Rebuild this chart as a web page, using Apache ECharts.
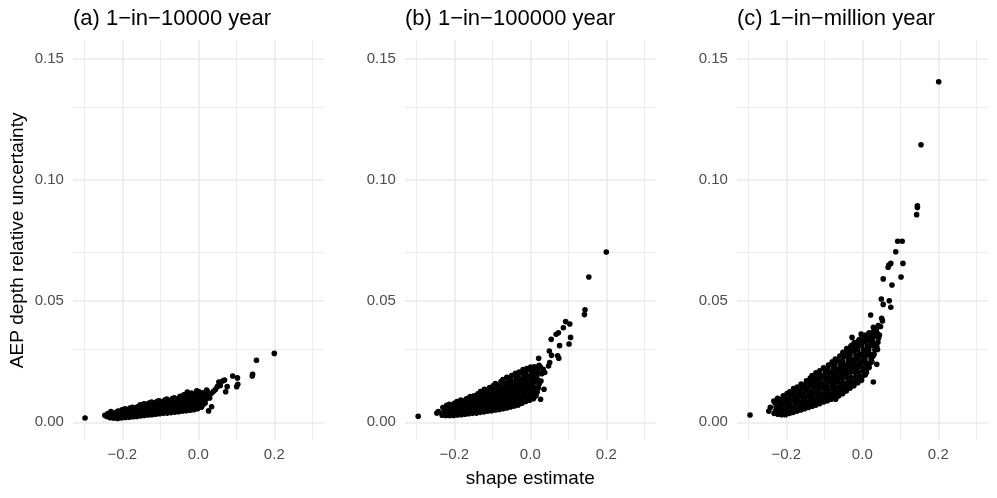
<!DOCTYPE html>
<html>
<head>
<meta charset="utf-8">
<script src="https://cdn.jsdelivr.net/npm/echarts@6.0.0/dist/echarts.min.js"></script>
<style>
html,body{margin:0;padding:0;background:#fff;}
#chart{width:997px;height:498px;}
</style>
</head>
<body>
<div id="chart"></div>
<script>
// ---------- data ----------
const panelTitles = ['(a) 1\u2212in\u221210000 year', '(b) 1\u2212in\u2212100000 year', '(c) 1\u2212in\u2212million year'];
const xTitle = 'shape estimate';
const yTitle = 'AEP depth relative uncertainty';
const xMajorTicks = [-0.2, 0, 0.2];
const xMinorTicks = [-0.3, -0.1, 0.1, 0.3];
const yMajorTicks = [0, 0.05, 0.1, 0.15];
const yMinorTicks = [0.025, 0.075, 0.125];

// Panel (a) 1-in-10000 year: [shape, relative uncertainty]
const cloudA = [
[-0.246,0.0029],[-0.241,0.0024],[-0.238,0.0036],
[-0.232,0.0019],[-0.229,0.0025],[-0.227,0.0037],[-0.230,0.0044],
[-0.222,0.0017],[-0.219,0.0029],[-0.217,0.0041],
[-0.212,0.0016],[-0.209,0.0022],[-0.207,0.0034],[-0.211,0.0046],
[-0.202,0.0018],[-0.199,0.0030],[-0.197,0.0043],[-0.201,0.0052],
[-0.192,0.0020],[-0.189,0.0027],[-0.187,0.0040],[-0.190,0.0052],[-0.193,0.0056],
[-0.182,0.0021],[-0.179,0.0034],[-0.177,0.0047],[-0.180,0.0059],
[-0.172,0.0023],[-0.169,0.0030],[-0.167,0.0043],[-0.170,0.0056],[-0.173,0.0062],
[-0.162,0.0024],[-0.159,0.0037],[-0.157,0.0050],[-0.160,0.0064],
[-0.152,0.0026],[-0.149,0.0033],[-0.147,0.0046],[-0.150,0.0059],[-0.153,0.0072],
[-0.142,0.0028],[-0.139,0.0041],[-0.137,0.0054],[-0.140,0.0067],[-0.143,0.0076],
[-0.132,0.0030],[-0.129,0.0037],[-0.127,0.0050],[-0.130,0.0063],[-0.133,0.0076],[-0.128,0.0080],
[-0.122,0.0031],[-0.119,0.0044],[-0.117,0.0057],[-0.120,0.0071],[-0.123,0.0083],
[-0.112,0.0033],[-0.109,0.0040],[-0.107,0.0053],[-0.110,0.0066],[-0.113,0.0080],[-0.108,0.0087],
[-0.102,0.0035],[-0.099,0.0048],[-0.097,0.0061],[-0.100,0.0075],[-0.103,0.0089],
[-0.092,0.0037],[-0.089,0.0044],[-0.087,0.0057],[-0.090,0.0070],[-0.093,0.0084],[-0.088,0.0092],
[-0.082,0.0038],[-0.079,0.0052],[-0.077,0.0066],[-0.080,0.0080],[-0.083,0.0096],
[-0.072,0.0040],[-0.069,0.0047],[-0.067,0.0061],[-0.070,0.0075],[-0.073,0.0089],[-0.068,0.0098],
[-0.062,0.0042],[-0.059,0.0056],[-0.057,0.0070],[-0.060,0.0085],[-0.063,0.0101],
[-0.052,0.0044],[-0.049,0.0051],[-0.047,0.0065],[-0.050,0.0080],[-0.053,0.0095],[-0.048,0.0107],
[-0.042,0.0046],[-0.039,0.0060],[-0.037,0.0075],[-0.040,0.0090],[-0.043,0.0105],[-0.038,0.0113],
[-0.032,0.0048],[-0.029,0.0055],[-0.027,0.0070],[-0.030,0.0085],[-0.033,0.0100],[-0.028,0.0114],
[-0.022,0.0050],[-0.019,0.0064],[-0.017,0.0079],[-0.020,0.0094],[-0.023,0.0109],[-0.018,0.0121],
[-0.012,0.0052],[-0.009,0.0059],[-0.007,0.0074],[-0.010,0.0089],[-0.013,0.0104],[-0.008,0.0118],
[-0.002,0.0056],[0.001,0.0070],[0.003,0.0085],[0.000,0.0100],[-0.003,0.0114],[0.002,0.0126],
[0.008,0.0062],[0.011,0.0070],[0.013,0.0085],[0.010,0.0100],[0.007,0.0115],[0.012,0.0122],
[0.018,0.0080],[0.021,0.0097],[0.019,0.0112],[0.023,0.0130],
[0.028,0.0105],[0.031,0.0118]
];
const tailA = [
[-0.298,0.0018],[0.200,0.0284],[0.153,0.0256],[0.143,0.0198],[0.142,0.0191],
[0.0905,0.0191],[0.103,0.0183],[0.104,0.0157],[0.101,0.0147],[0.069,0.0174],
[0.064,0.0170],[0.054,0.0166],[0.076,0.0147],[0.072,0.0126],[0.050,0.0147],
[0.022,0.0133],[0.035,0.0120],[0.035,0.0064],[0.027,0.0047],[0.013,0.0074],
[-0.004,0.0130],[-0.029,0.0125],[0.045,0.0135],[0.040,0.0128],[0.058,0.0152],[0.030,0.0100]
];

// Panel (b) 1-in-100000 year
const cloudB = [
[-0.246,0.0038],[-0.242,0.0044],
[-0.232,0.0029],[-0.229,0.0037],[-0.227,0.0053],[-0.230,0.0061],
[-0.222,0.0028],[-0.219,0.0044],[-0.217,0.0060],[-0.220,0.0070],
[-0.212,0.0028],[-0.209,0.0036],[-0.207,0.0052],[-0.210,0.0068],[-0.213,0.0074],
[-0.202,0.0028],[-0.199,0.0044],[-0.197,0.0060],[-0.200,0.0078],
[-0.192,0.0030],[-0.189,0.0038],[-0.187,0.0054],[-0.190,0.0070],[-0.193,0.0086],
[-0.182,0.0031],[-0.179,0.0047],[-0.177,0.0063],[-0.180,0.0079],[-0.183,0.0092],
[-0.172,0.0033],[-0.169,0.0041],[-0.167,0.0057],[-0.170,0.0073],[-0.173,0.0089],[-0.168,0.0097],
[-0.162,0.0035],[-0.159,0.0051],[-0.157,0.0067],[-0.160,0.0083],[-0.163,0.0099],[-0.158,0.0106],
[-0.152,0.0037],[-0.149,0.0045],[-0.147,0.0061],[-0.150,0.0077],[-0.153,0.0093],[-0.148,0.0109],
[-0.142,0.0038],[-0.139,0.0054],[-0.137,0.0070],[-0.140,0.0086],[-0.143,0.0102],[-0.138,0.0118],
[-0.132,0.0041],[-0.129,0.0049],[-0.127,0.0065],[-0.130,0.0081],[-0.133,0.0097],[-0.128,0.0113],[-0.131,0.0127],
[-0.122,0.0043],[-0.119,0.0059],[-0.117,0.0075],[-0.120,0.0091],[-0.123,0.0107],[-0.118,0.0123],[-0.121,0.0136],
[-0.112,0.0046],[-0.109,0.0054],[-0.107,0.0070],[-0.110,0.0086],[-0.113,0.0102],[-0.108,0.0118],[-0.111,0.0134],[-0.107,0.0143],
[-0.102,0.0048],[-0.099,0.0064],[-0.097,0.0080],[-0.100,0.0096],[-0.103,0.0112],[-0.098,0.0128],[-0.101,0.0144],[-0.097,0.0152],
[-0.092,0.0051],[-0.089,0.0059],[-0.087,0.0075],[-0.090,0.0091],[-0.093,0.0107],[-0.088,0.0123],[-0.091,0.0139],[-0.087,0.0155],[-0.092,0.0160],
[-0.082,0.0053],[-0.079,0.0069],[-0.077,0.0085],[-0.080,0.0101],[-0.083,0.0117],[-0.078,0.0133],[-0.081,0.0149],[-0.077,0.0168],
[-0.072,0.0056],[-0.069,0.0064],[-0.067,0.0080],[-0.070,0.0096],[-0.073,0.0112],[-0.068,0.0128],[-0.071,0.0144],[-0.067,0.0160],[-0.072,0.0176],
[-0.062,0.0059],[-0.059,0.0075],[-0.057,0.0091],[-0.060,0.0107],[-0.063,0.0123],[-0.058,0.0139],[-0.061,0.0155],[-0.057,0.0171],[-0.062,0.0185],
[-0.052,0.0063],[-0.049,0.0071],[-0.047,0.0087],[-0.050,0.0103],[-0.053,0.0119],[-0.048,0.0135],[-0.051,0.0151],[-0.047,0.0167],[-0.052,0.0183],[-0.049,0.0193],
[-0.042,0.0067],[-0.039,0.0083],[-0.037,0.0099],[-0.040,0.0115],[-0.043,0.0131],[-0.038,0.0147],[-0.041,0.0163],[-0.037,0.0179],[-0.042,0.0195],[-0.039,0.0202],
[-0.032,0.0071],[-0.029,0.0079],[-0.027,0.0095],[-0.030,0.0111],[-0.033,0.0127],[-0.028,0.0143],[-0.031,0.0159],[-0.027,0.0175],[-0.032,0.0191],[-0.029,0.0207],
[-0.022,0.0079],[-0.019,0.0095],[-0.017,0.0111],[-0.020,0.0127],[-0.023,0.0143],[-0.018,0.0159],[-0.021,0.0175],[-0.017,0.0191],[-0.022,0.0207],[-0.019,0.0217],
[-0.012,0.0086],[-0.009,0.0094],[-0.007,0.0110],[-0.010,0.0126],[-0.013,0.0142],[-0.008,0.0158],[-0.011,0.0174],[-0.007,0.0190],[-0.012,0.0206],[-0.009,0.0222],
[-0.002,0.0091],[0.001,0.0107],[0.003,0.0123],[0.000,0.0139],[-0.003,0.0155],[0.002,0.0171],[-0.001,0.0187],[0.003,0.0203],[-0.002,0.0219],[0.001,0.0228],
[0.008,0.0097],[0.011,0.0105],[0.013,0.0121],[0.010,0.0137],[0.007,0.0153],[0.012,0.0169],[0.009,0.0185],[0.013,0.0201],[0.008,0.0217],[0.011,0.0229],
[0.018,0.0125],[0.021,0.0141],[0.023,0.0157],[0.020,0.0173],[0.017,0.0189],[0.022,0.0205],[0.019,0.0221],[0.023,0.0235]
];
const tailB = [
[-0.295,0.0025],[0.200,0.0702],[0.154,0.0599],[0.144,0.0464],[0.1425,0.0444],
[0.093,0.0415],[0.104,0.0405],[0.087,0.0390],[0.074,0.0369],[0.068,0.0363],
[0.055,0.0342],[0.106,0.0350],[0.102,0.0323],[0.077,0.0316],[0.050,0.0294],
[0.056,0.0276],[0.072,0.0274],[0.075,0.0264],[0.022,0.0264],[0.051,0.0246],
[0.048,0.0232],[0.026,0.0229],[0.034,0.0218],[0.012,0.0143],[0.036,0.0136],
[0.027,0.0095],[0.004,0.0130],[-0.005,0.0113],[0.030,0.0200],[0.038,0.0205],
[0.028,0.0170],[0.015,0.0110]
];

// Panel (c) 1-in-million year
const cloudC = [
[-0.246,0.0046],[-0.242,0.0062],
[-0.232,0.0036],[-0.229,0.0045],[-0.227,0.0063],[-0.230,0.0081],[-0.233,0.0088],
[-0.222,0.0033],[-0.219,0.0051],[-0.217,0.0069],[-0.220,0.0087],[-0.223,0.0099],
[-0.212,0.0031],[-0.209,0.0040],[-0.207,0.0058],[-0.210,0.0076],[-0.213,0.0094],[-0.208,0.0109],
[-0.202,0.0031],[-0.199,0.0049],[-0.197,0.0067],[-0.200,0.0085],[-0.203,0.0103],[-0.198,0.0119],
[-0.192,0.0036],[-0.189,0.0045],[-0.187,0.0063],[-0.190,0.0081],[-0.193,0.0099],[-0.188,0.0117],[-0.191,0.0126],
[-0.182,0.0041],[-0.179,0.0059],[-0.177,0.0077],[-0.180,0.0095],[-0.183,0.0113],[-0.178,0.0131],[-0.181,0.0139],
[-0.172,0.0046],[-0.169,0.0055],[-0.167,0.0073],[-0.170,0.0091],[-0.173,0.0109],[-0.168,0.0127],[-0.171,0.0145],
[-0.162,0.0051],[-0.159,0.0069],[-0.157,0.0087],[-0.160,0.0105],[-0.163,0.0123],[-0.158,0.0141],[-0.161,0.0158],
[-0.152,0.0056],[-0.149,0.0065],[-0.147,0.0083],[-0.150,0.0101],[-0.153,0.0119],[-0.148,0.0137],[-0.151,0.0155],[-0.147,0.0171],
[-0.142,0.0061],[-0.139,0.0079],[-0.137,0.0097],[-0.140,0.0115],[-0.143,0.0133],[-0.138,0.0151],[-0.141,0.0169],[-0.137,0.0182],
[-0.132,0.0066],[-0.129,0.0075],[-0.127,0.0093],[-0.130,0.0111],[-0.133,0.0129],[-0.128,0.0147],[-0.131,0.0165],[-0.127,0.0183],[-0.132,0.0193],
[-0.122,0.0071],[-0.119,0.0089],[-0.117,0.0107],[-0.120,0.0125],[-0.123,0.0143],[-0.118,0.0161],[-0.121,0.0179],[-0.117,0.0197],[-0.122,0.0204],
[-0.112,0.0077],[-0.109,0.0086],[-0.107,0.0104],[-0.110,0.0122],[-0.113,0.0140],[-0.108,0.0158],[-0.111,0.0176],[-0.107,0.0194],[-0.112,0.0212],
[-0.102,0.0084],[-0.099,0.0102],[-0.097,0.0120],[-0.100,0.0138],[-0.103,0.0156],[-0.098,0.0174],[-0.101,0.0192],[-0.097,0.0210],[-0.102,0.0225],
[-0.092,0.0089],[-0.089,0.0098],[-0.087,0.0116],[-0.090,0.0134],[-0.093,0.0152],[-0.088,0.0170],[-0.091,0.0188],[-0.087,0.0206],[-0.092,0.0224],[-0.089,0.0236],
[-0.082,0.0095],[-0.079,0.0113],[-0.077,0.0131],[-0.080,0.0149],[-0.083,0.0167],[-0.078,0.0185],[-0.081,0.0203],[-0.077,0.0221],[-0.082,0.0239],[-0.079,0.0249],
[-0.072,0.0101],[-0.069,0.0110],[-0.067,0.0128],[-0.070,0.0146],[-0.073,0.0164],[-0.068,0.0182],[-0.071,0.0200],[-0.067,0.0218],[-0.072,0.0236],[-0.069,0.0254],[-0.071,0.0261],
[-0.062,0.0109],[-0.059,0.0127],[-0.057,0.0145],[-0.060,0.0163],[-0.063,0.0181],[-0.058,0.0199],[-0.061,0.0217],[-0.057,0.0235],[-0.062,0.0253],[-0.059,0.0273],
[-0.052,0.0118],[-0.049,0.0127],[-0.047,0.0145],[-0.050,0.0163],[-0.053,0.0181],[-0.048,0.0199],[-0.051,0.0217],[-0.047,0.0235],[-0.052,0.0253],[-0.049,0.0271],[-0.051,0.0289],
[-0.042,0.0129],[-0.039,0.0147],[-0.037,0.0165],[-0.040,0.0183],[-0.043,0.0201],[-0.038,0.0219],[-0.041,0.0237],[-0.037,0.0255],[-0.042,0.0273],[-0.039,0.0291],[-0.041,0.0304],
[-0.032,0.0141],[-0.029,0.0150],[-0.027,0.0168],[-0.030,0.0186],[-0.033,0.0204],[-0.028,0.0222],[-0.031,0.0240],[-0.027,0.0258],[-0.032,0.0276],[-0.029,0.0294],[-0.031,0.0312],[-0.028,0.0317],
[-0.022,0.0151],[-0.019,0.0169],[-0.017,0.0187],[-0.020,0.0205],[-0.023,0.0223],[-0.018,0.0241],[-0.021,0.0259],[-0.017,0.0277],[-0.022,0.0295],[-0.019,0.0313],[-0.021,0.0329],
[-0.012,0.0163],[-0.009,0.0172],[-0.007,0.0190],[-0.010,0.0208],[-0.013,0.0226],[-0.008,0.0244],[-0.011,0.0262],[-0.007,0.0280],[-0.012,0.0298],[-0.009,0.0316],[-0.011,0.0334],[-0.008,0.0341],
[-0.002,0.0173],[0.001,0.0191],[0.003,0.0209],[0.000,0.0227],[-0.003,0.0245],[0.002,0.0263],[-0.001,0.0281],[0.003,0.0299],[-0.002,0.0317],[0.001,0.0335],[-0.001,0.0351],
[0.008,0.0196],[0.011,0.0205],[0.013,0.0223],[0.010,0.0241],[0.007,0.0259],[0.012,0.0277],[0.009,0.0295],[0.013,0.0313],[0.008,0.0331],[0.011,0.0349],[0.009,0.0360],
[0.018,0.0226],[0.021,0.0244],[0.023,0.0262],[0.020,0.0280],[0.017,0.0298],[0.022,0.0316],[0.019,0.0334],[0.023,0.0352],[0.018,0.0369],
[0.028,0.0272],[0.031,0.0281],[0.033,0.0299],[0.030,0.0317],[0.027,0.0335],[0.032,0.0353],[0.029,0.0371],[0.031,0.0383],
[0.038,0.0312],[0.041,0.0330],[0.043,0.0348],[0.040,0.0366],[0.037,0.0384],[0.042,0.0399]
];
const tailC = [
[-0.2955,0.0030],[0.201,0.1404],[0.1545,0.1144],[0.145,0.0892],[0.145,0.0885],
[0.143,0.0856],[0.093,0.0746],[0.105,0.0746],[0.088,0.0703],[0.075,0.0655],
[0.070,0.0648],[0.107,0.0655],[0.068,0.0639],[0.055,0.0591],[0.102,0.0599],
[0.078,0.0566],[0.050,0.0508],[0.071,0.0501],[0.055,0.0486],[0.075,0.0474],
[0.022,0.0442],[0.051,0.0429],[0.053,0.0418],[0.029,0.0392],[0.036,0.0380],
[-0.003,0.0364],[-0.027,0.0350],[0.038,0.0239],[0.015,0.0243],[0.029,0.0166],
[0.004,0.0218],[-0.006,0.0181],[-0.070,0.0095],[0.045,0.0360],[0.048,0.0395],
[0.040,0.0300],[0.025,0.0250]
];

// ---------- chart ----------
const FONT = '"Liberation Sans", Arial, Helvetica, sans-serif';
const X_MIN = -0.33, X_MAX = 0.33, Y_MIN = -0.0075, Y_MAX = 0.1575;
const panels = [cloudA.concat(tailA), cloudB.concat(tailB), cloudC.concat(tailC)];
const PANEL_LEFT = 72.9, PANEL_STEP = 332, PANEL_W = 250.8, PANEL_TOP = 40.2, PANEL_H = 400.3;
const GRID_COLOR = '#EBEBEB';

const grids = [], xAxes = [], yAxes = [], series = [], titles = [];
panels.forEach((pts, i) => {
  const left = PANEL_LEFT + PANEL_STEP * i;
  grids.push({ left: left, top: PANEL_TOP, width: PANEL_W, height: PANEL_H, containLabel: false });
  xAxes.push({
    type: 'value', gridIndex: i, min: X_MIN, max: X_MAX,
    axisLine: { show: false }, axisTick: { show: false }, splitLine: { show: false },
    axisLabel: {
      customValues: xMajorTicks, margin: 7, color: '#4D4D4D', fontSize: 15, fontFamily: FONT,
      formatter: v => v.toFixed(1).replace('-', '\u2212')
    }
  });
  yAxes.push({
    type: 'value', gridIndex: i, min: Y_MIN, max: Y_MAX,
    axisLine: { show: false }, axisTick: { show: false }, splitLine: { show: false },
    axisLabel: {
      customValues: yMajorTicks, margin: 9, color: '#4D4D4D', fontSize: 15, fontFamily: FONT,
      formatter: v => v.toFixed(2)
    }
  });
  const lines = [];
  xMinorTicks.forEach(v => lines.push({ xAxis: v, lineStyle: { width: 0.9 } }));
  yMinorTicks.forEach(v => lines.push({ yAxis: v, lineStyle: { width: 0.9 } }));
  xMajorTicks.forEach(v => lines.push({ xAxis: v, lineStyle: { width: 1.6 } }));
  yMajorTicks.forEach(v => lines.push({ yAxis: v, lineStyle: { width: 1.6 } }));
  series.push({
    type: 'scatter', xAxisIndex: i, yAxisIndex: i, data: [], silent: true, z: 1,
    markLine: {
      z: 1, silent: true, symbol: ['none', 'none'], label: { show: false }, animation: false,
      lineStyle: { color: GRID_COLOR, type: 'solid' }, emphasis: { disabled: true },
      data: lines
    }
  });
  series.push({
    type: 'scatter', xAxisIndex: i, yAxisIndex: i, data: pts, z: 10,
    symbol: 'circle', symbolSize: 5.6, itemStyle: { color: '#000000', opacity: 1 },
    silent: true, animation: false, large: false
  });
  titles.push({
    text: panelTitles[i], left: left, top: 8, padding: 0,
    textStyle: { fontSize: 22, fontWeight: 'normal', color: '#000000', fontFamily: FONT }
  });
});

const chart = echarts.init(document.getElementById('chart'), null, { renderer: 'canvas' });
chart.setOption({
  backgroundColor: '#ffffff',
  animation: false,
  title: titles,
  grid: grids,
  xAxis: xAxes,
  yAxis: yAxes,
  series: series,
  graphic: [
    { type: 'text', x: PANEL_LEFT + PANEL_STEP + PANEL_W / 2, y: 479, silent: true,
      style: { text: xTitle, fill: '#000', font: '19px ' + FONT, align: 'center', verticalAlign: 'middle' } },
    { type: 'text', x: 18, y: PANEL_TOP + PANEL_H / 2, rotation: Math.PI / 2, silent: true,
      style: { text: yTitle, fill: '#000', font: '19px ' + FONT, align: 'center', verticalAlign: 'middle' } }
  ]
});
</script>
</body>
</html>
